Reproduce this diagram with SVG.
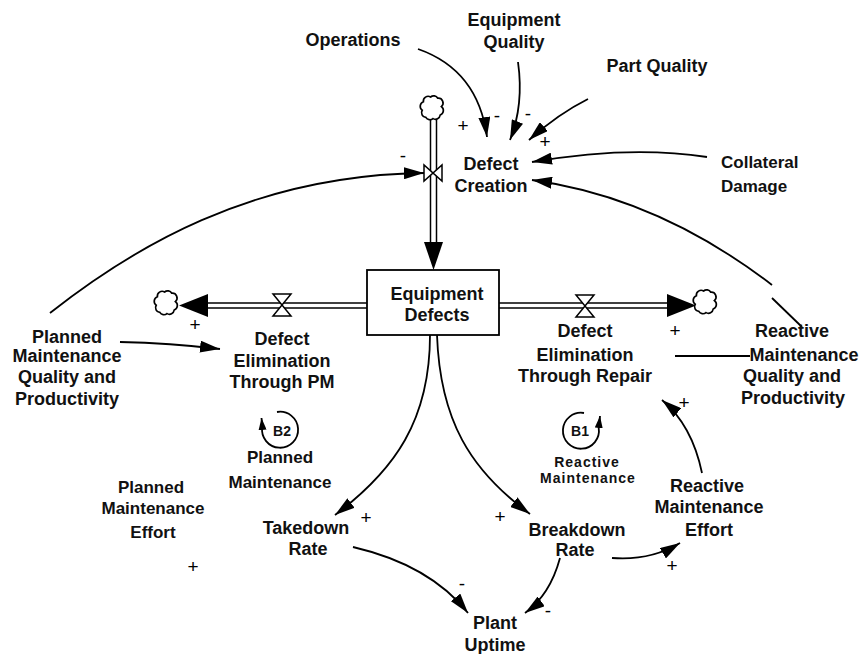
<svg xmlns="http://www.w3.org/2000/svg" width="859" height="654" viewBox="0 0 859 654">
<defs>
<style>
text{font-family:"Liberation Sans",Arial,sans-serif;font-size:18px;font-weight:bold;fill:#111;text-anchor:middle}
.l{text-anchor:start}
.s{font-size:19px;font-weight:normal;fill:#000}
.sm{font-size:14px;letter-spacing:1px}
.b{font-size:14px}
.c{fill:none;stroke:#000;stroke-width:1.8}
.pipe{stroke:#000;stroke-width:1.5}
.valve{fill:#fff;stroke:#000;stroke-width:1.5}
.cloud{fill:#fff;stroke:#000;stroke-width:1.4}
.head{fill:#000}
</style>
<marker id="ah" markerUnits="userSpaceOnUse" markerWidth="20" markerHeight="12" viewBox="0 0 20 12" refX="20" refY="6" orient="auto"><path d="M0,0L20,6L0,12z"/></marker>
<marker id="sa" markerUnits="userSpaceOnUse" markerWidth="12" markerHeight="8" viewBox="0 0 12 8" refX="12" refY="4" orient="auto"><path d="M0,0L12,4L0,8z"/></marker>
<path id="cl" d="M-8,-6 a4,4 0 0 1 6,-4 a4,4 0 0 1 6,1 a4,4 0 0 1 3,7 a4,4 0 0 1 -1,7 a4,4 0 0 1 -6,3 a4,4 0 0 1 -6,-1 a4,4 0 0 1 -3,-6 a4,4 0 0 1 1,-7 z"/>
</defs>
<rect width="859" height="654" fill="#fff"/>

<g id="stock-flows">
<line class="pipe" x1="430.5" y1="119" x2="430.5" y2="243"/>
<line class="pipe" x1="436.5" y1="119" x2="436.5" y2="243"/>
<polygon class="head" points="424,242 443,242 433.5,270"/>
<line class="pipe" x1="205" y1="303" x2="367" y2="303"/>
<line class="pipe" x1="205" y1="308" x2="367" y2="308"/>
<polygon class="head" points="208,294 208,317 179,305.5"/>
<line class="pipe" x1="499" y1="303" x2="669" y2="303"/>
<line class="pipe" x1="499" y1="308" x2="669" y2="308"/>
<polygon class="head" points="667,294 667,317 696,305.5"/>
<use href="#cl" class="cloud" transform="translate(433,109) scale(1.2)"/>
<use href="#cl" class="cloud" transform="translate(167,304) scale(1.2)"/>
<use href="#cl" class="cloud" transform="translate(706,303) scale(1.2)"/>
</g>

<g id="valve-defect-creation"><path class="valve" d="M424,165 L424,181 L442,165 L442,181 Z"/></g>
<g id="valve-pm"><path class="valve" d="M273,294 L291,294 L273,316 L291,316 Z"/></g>
<g id="valve-repair"><path class="valve" d="M576,295 L594,295 L576,317 L594,317 Z"/></g>

<g id="equipment-defects">
<rect x="367" y="270" width="132" height="65" fill="#fff" stroke="#000" stroke-width="1.8"/>
<text x="437" y="300">Equipment</text>
<text x="437" y="321">Defects</text>
</g>

<g id="connectors">
<path class="c" marker-end="url(#ah)" d="M418,49 Q478,70 487,137"/>
<path class="c" marker-end="url(#ah)" d="M518,62 Q524,105 510,140"/>
<path class="c" marker-end="url(#ah)" d="M588,99 Q558,114 529,140"/>
<path class="c" marker-end="url(#ah)" d="M707,157 Q630,145 532,162"/>
<path class="c" marker-end="url(#ah)" d="M772,285 C720,245 640,195 532,180"/>
<path class="c" d="M772,298 L802,327"/>
<path class="c" marker-end="url(#ah)" d="M50,313 C130,250 250,175 424,173"/>
<path class="c" marker-end="url(#ah)" d="M120,342 Q170,343 220,349"/>
<path class="c" d="M675,356 L750,356"/>
<path class="c" marker-end="url(#ah)" d="M430,335 C430,420 395,470 335,515"/>
<path class="c" marker-end="url(#ah)" d="M437,335 C440,420 470,470 530,514"/>
<path class="c" marker-end="url(#ah)" d="M353,547 Q430,565 468,613"/>
<path class="c" marker-end="url(#ah)" d="M560,558 Q550,595 525,613"/>
<path class="c" marker-end="url(#ah)" d="M612,558 Q650,561 680,543"/>
<path class="c" marker-end="url(#ah)" d="M702,473 Q692,425 662,400"/>
</g>

<g id="loop-b2">
<path class="c" marker-end="url(#sa)" d="M277,412 A18,18 0 1 1 262.3,426.9 L261.5,418"/>
<text class="b" x="282" y="436">B2</text>
<text x="280" y="463" style="font-size:17px">Planned</text>
<text x="280" y="488" style="font-size:17px">Maintenance</text>
</g>
<g id="loop-b1">
<path class="c" marker-end="url(#sa)" d="M584,413 A18,18 0 1 0 598.7,427.9 L600,416"/>
<text class="b" x="580" y="436">B1</text>
<text class="sm" x="587" y="467">Reactive</text>
<text class="sm" x="588" y="483">Maintenance</text>
</g>

<g id="operations"><text x="353" y="46">Operations</text></g>
<g id="equipment-quality"><text x="514" y="26">Equipment</text><text x="514" y="48">Quality</text></g>
<g id="part-quality"><text x="657" y="72">Part Quality</text></g>
<g id="defect-creation"><text x="491" y="170">Defect</text><text x="491" y="192">Creation</text></g>
<g id="collateral-damage"><text class="l" x="721" y="168" style="font-size:17px">Collateral</text><text class="l" x="721" y="192" style="font-size:17px">Damage</text></g>
<g id="planned-mq"><text x="67" y="343">Planned</text><text x="67" y="362">Maintenance</text><text x="67" y="383">Quality and</text><text x="67" y="405">Productivity</text></g>
<g id="defect-elim-pm"><text x="282" y="345">Defect</text><text x="282" y="367">Elimination</text><text x="282" y="388">Through PM</text></g>
<g id="defect-elim-repair"><text x="585" y="337">Defect</text><text x="585" y="361">Elimination</text><text x="585" y="382">Through Repair</text></g>
<g id="reactive-mq"><text x="792" y="337">Reactive</text><text x="804" y="361">Maintenance</text><text x="792" y="382">Quality and</text><text x="793" y="404">Productivity</text></g>
<g id="planned-me"><text x="151" y="493" style="font-size:17px">Planned</text><text x="153" y="514" style="font-size:17px">Maintenance</text><text x="153" y="538" style="font-size:17px">Effort</text></g>
<g id="takedown-rate"><text x="306" y="534">Takedown</text><text x="308" y="555">Rate</text></g>
<g id="breakdown-rate"><text x="577" y="536">Breakdown</text><text x="575" y="556">Rate</text></g>
<g id="plant-uptime"><text x="495" y="629">Plant</text><text x="495" y="651">Uptime</text></g>
<g id="reactive-me"><text x="707" y="492">Reactive</text><text x="709" y="513">Maintenance</text><text x="709" y="536">Effort</text></g>

<g id="polarities">
<text class="s" x="403" y="162">-</text>
<text class="s" x="463" y="132">+</text>
<text class="s" x="497" y="122">-</text>
<text class="s" x="528" y="120">-</text>
<text class="s" x="545" y="148">+</text>
<text class="s" x="195" y="331">+</text>
<text class="s" x="675" y="337">+</text>
<text class="s" x="684" y="409">+</text>
<text class="s" x="366" y="524">+</text>
<text class="s" x="500" y="523">+</text>
<text class="s" x="462" y="590">-</text>
<text class="s" x="548" y="617">-</text>
<text class="s" x="672" y="572">+</text>
<text class="s" x="193" y="573">+</text>
</g>
</svg>
